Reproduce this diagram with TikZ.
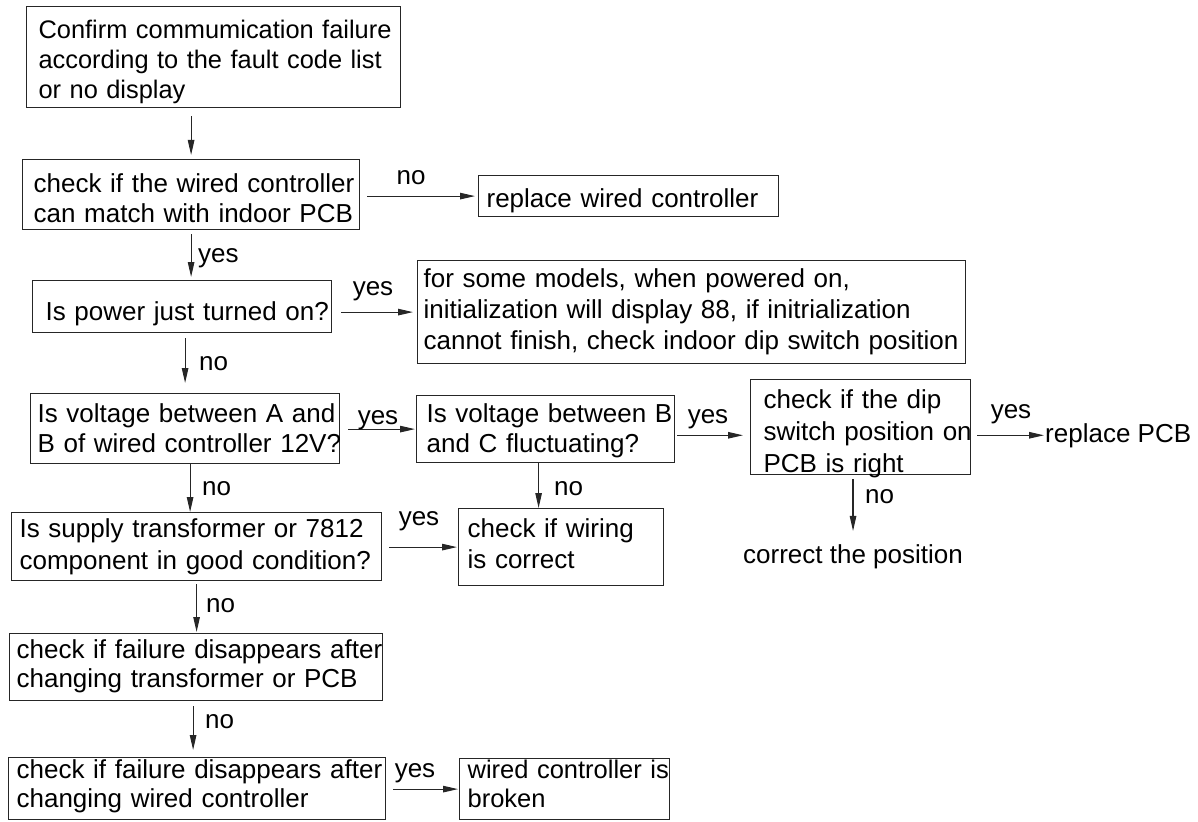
\documentclass[tikz,border=0pt]{standalone}
\usepackage{fontspec}
\setmainfont{Liberation Sans}
\usetikzlibrary{arrows.meta}
\newcommand\fsz{\fontsize{26}{30}\selectfont}
\begin{document}
\begin{tikzpicture}[x=1pt,y=-1pt,
  lw/.style={line width=1.2pt, draw=black!85},
  box/.style={lw, font=\fsz, anchor=north west, align=left, inner ysep=0pt},
  arr/.style={line width=1.1pt, black!85, -{Triangle[length=15pt,width=6.5pt]}},
  lbl/.style={font=\fsz, inner sep=0pt, anchor=base},
  lblw/.style={font=\fsz, inner sep=0pt, anchor=base west},
  plain/.style={font=\fsz, inner sep=0pt, anchor=base west},
]
\useasboundingbox (0,0) rectangle (1198,821);

% boxes
\node[box, font=\fontsize{25.4}{30}\selectfont, inner xsep=12pt, text width=350pt, minimum height=101pt, text height=29pt, text depth=66pt] (b1) at (26,6)
  {\mbox{Confirm commumication failure}\\\mbox{according to the fault code list}\\\mbox{or no display}};
\node[box, inner xsep=11pt, text width=315pt, minimum height=70pt, text height=32pt, text depth=36pt] (b2) at (22,159)
  {\mbox{check if the wired controller}\\\mbox{can match with indoor PCB}};
\node[box, inner xsep=8pt, text width=284pt, minimum height=41pt, text height=29pt, text depth=6pt] (rwc) at (478,175)
  {\mbox{replace wired controller}};
\node[box, inner xsep=13pt, text width=273pt, minimum height=52pt, text height=34pt, text depth=6pt] (b3) at (32,280)
  {\mbox{Is power just turned on?}};
\node[box, font=\fontsize{26}{31}\selectfont, inner xsep=6pt, text width=536pt, minimum height=103pt, text height=19pt, text depth=68pt] (big) at (417,260)
  {\mbox{for some models, when powered on,}\\\mbox{initialization will display 88, if initrialization}\\\mbox{cannot finish, check indoor dip switch position}};
\node[box, inner xsep=7pt, text width=295pt, minimum height=70pt, text height=24pt, text depth=36pt] (b4) at (30,393)
  {\mbox{Is voltage between A and}\\\mbox{B of wired controller 12V?}};
\node[box, inner xsep=10pt, text width=238pt, minimum height=67pt, text height=23pt, text depth=36pt] (b5) at (416,395)
  {\mbox{Is voltage between B}\\\mbox{and C fluctuating?}};
\node[box, font=\fontsize{26}{32}\selectfont, inner xsep=13pt, text width=194pt, minimum height=95pt, text height=27pt, text depth=64pt] (b6) at (750,379)
  {\mbox{check if the dip}\\\mbox{switch position on}\\\mbox{PCB is right}};
\node[box, font=\fontsize{26}{32}\selectfont, inner xsep=8pt, text width=354pt, minimum height=68pt, text height=20pt, text depth=38pt] (b7) at (11,512)
  {\mbox{Is supply transformer or 7812}\\\mbox{component in good condition?}};
\node[box, font=\fontsize{26}{31}\selectfont, inner xsep=9pt, text width=187pt, minimum height=77pt, text height=18pt, text depth=37pt] (b8) at (458,508)
  {\mbox{check if wiring}\\\mbox{is correct}};
\node[box, font=\fontsize{26}{29}\selectfont, inner xsep=7pt, text width=359pt, minimum height=67pt, text height=18pt, text depth=35pt] (b9) at (9,633)
  {\mbox{check if failure disappears after}\\\mbox{changing transformer or PCB}};
\node[box, font=\fontsize{26}{29}\selectfont, inner xsep=8pt, text width=361pt, minimum height=62pt, text height=15pt, text depth=35pt] (b10) at (8,757)
  {\mbox{check if failure disappears after}\\\mbox{changing wired controller}};
\node[box, font=\fontsize{25.5}{29}\selectfont, inner xsep=8pt, text width=194pt, minimum height=61pt, text height=14pt, text depth=35pt] (b11) at (459,758)
  {\mbox{wired controller is}\\\mbox{broken}};

% free texts
\node[plain] (rpcb) at (1045,442) {replace PCB};
\node[plain] (cor) at (743,563) {correct the position};

% connectors
\draw[arr, shorten <=8pt, shorten >=4pt] (b1.south -| b2.north) -- (b2.north);
\draw[arr, shorten <=7pt, shorten >=3pt] (b2.east |- rwc.west) -- (rwc.west);
\draw[arr, shorten <=4pt, shorten >=3pt] (b2.south) -- (b2.south |- b3.north);
\draw[arr, shorten <=9pt, shorten >=4pt] (b3.east |- big.west) -- (big.west);
\draw[arr, shorten <=5pt, shorten >=10pt] (b3.south -| b4.north) -- (b4.north);
\draw[arr, shorten <=8pt, shorten >=1pt] (b4.east |- b5.west) -- (b5.west);
\draw[arr, shorten <=2pt, shorten >=7pt] (b5.east |- rpcb.west) -- (b6.west |- rpcb.west);
\draw[arr, shorten <=6pt, shorten >=1pt] (b6.east |- rpcb.west) -- (rpcb.west);
\draw[arr, shorten <=4pt, shorten >=13pt] (b6.south -| cor.north) -- (cor.north);
\draw[arr] ([xshift=5pt]b4.south) -- ([xshift=5pt]b4.south |- b7.north);
\draw[arr] ([xshift=-7pt]b5.south) -- ([xshift=-7pt]b5.south |- b8.north);
\draw[arr, shorten <=7pt, shorten >=1pt] (b7.east |- b8.west) -- (b8.west);
\draw[arr, shorten <=3pt, shorten >=1pt] (b7.south) -- (b7.south |- b9.north);
\draw[arr, shorten <=5pt, shorten >=7pt] ([xshift=-3pt]b9.south) -- ([xshift=-3pt]b9.south |- b10.north);
\draw[arr, shorten <=7pt, shorten >=1pt] (b10.east |- b11.west) -- (b11.west);

% connector labels
\node[lbl]  (l2)  at (411,185) {no};
\node[lblw] (l3)  at (198,262) {yes};
\node[lbl]  (l4)  at (373,295) {yes};
\node[lblw] (l5)  at (199,370) {no};
\node[lbl]  (l6)  at (378,424) {yes};
\node[lbl]  (l7)  at (708,423) {yes};
\node[lbl]  (l8)  at (1011,418) {yes};
\node[lblw] (l9)  at (865,503) {no};
\node[lblw] (l10) at (202,495) {no};
\node[lblw] (l11) at (554,495) {no};
\node[lbl]  (l12) at (419,525) {yes};
\node[lblw] (l13) at (206,612) {no};
\node[lblw] (l14) at (205,728) {no};
\node[lbl]  (l15) at (415,777) {yes};
\end{tikzpicture}
\end{document}
